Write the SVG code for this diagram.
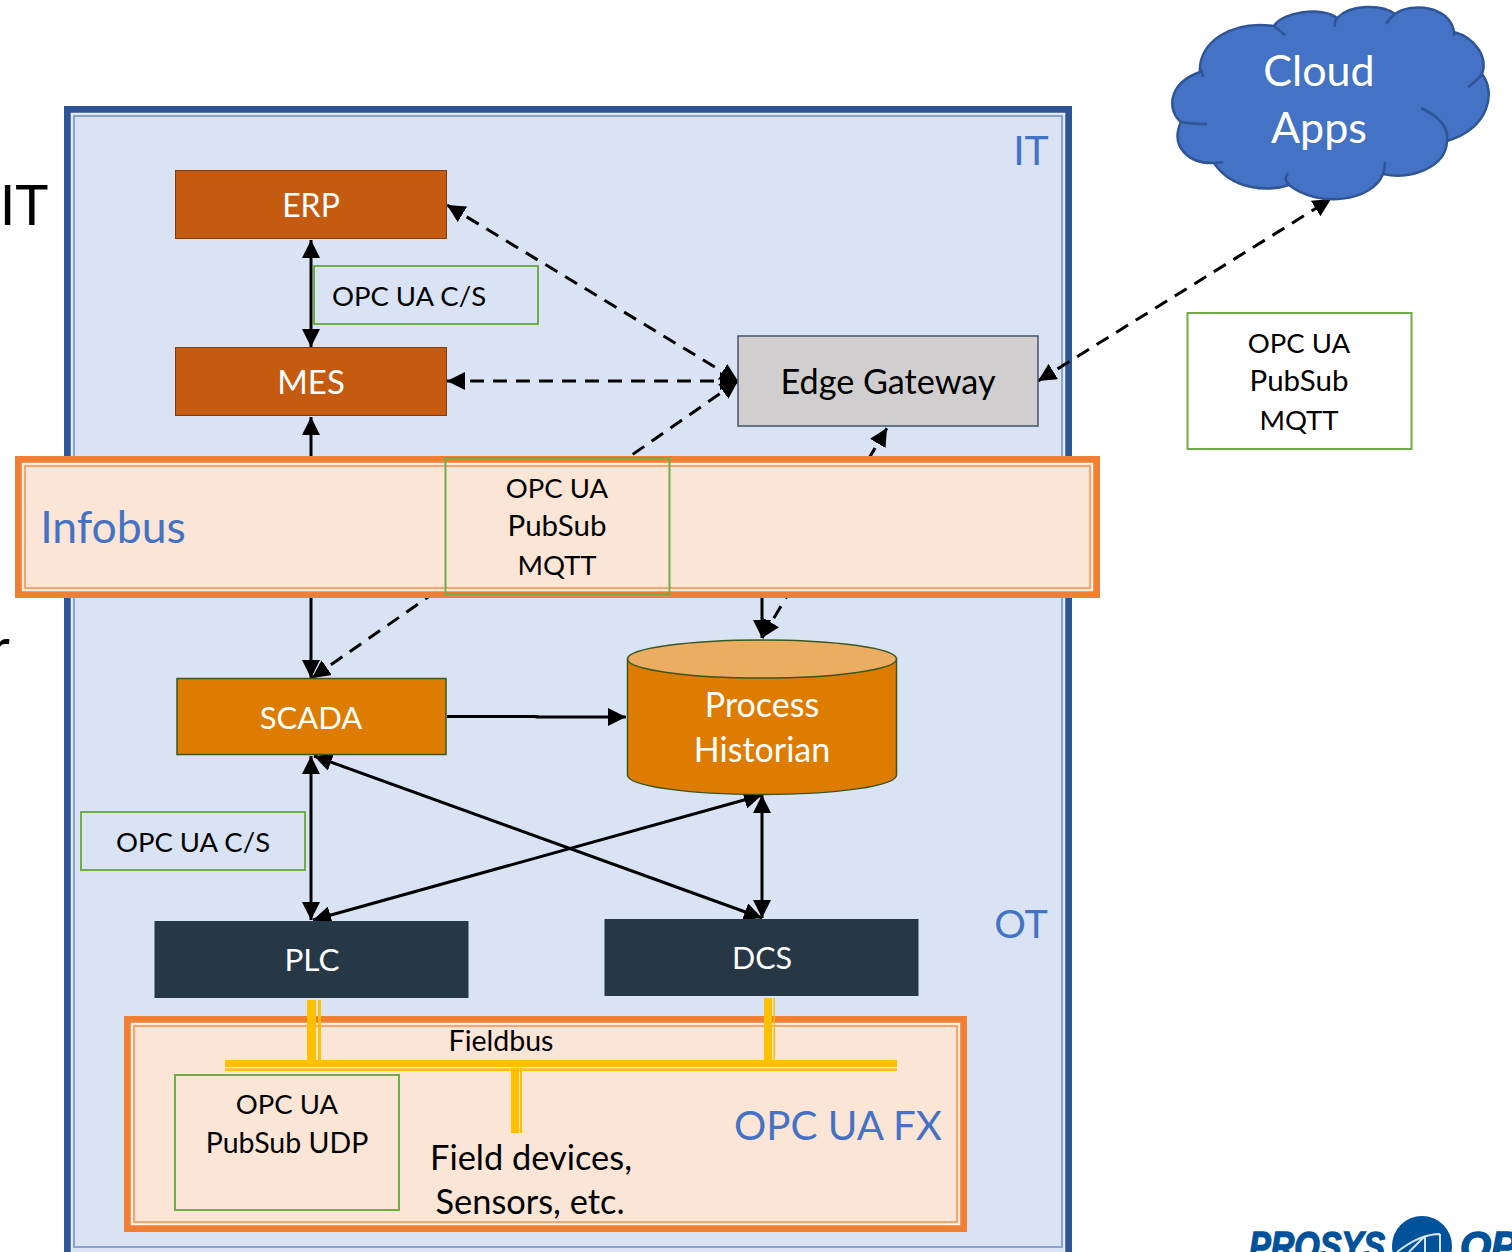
<svg xmlns="http://www.w3.org/2000/svg" width="1512" height="1252" viewBox="0 0 1512 1252">
<style>
text{font-family:Lato,"Open Sans",sans-serif;text-anchor:middle;fill:#000}
.w{fill:#fff}.b{fill:#4472c4}
.t30{font-size:27.500px}
.ps{font-size:29.500px}
.lbl{fill:none;stroke:#70ad47;stroke-width:2}
.c{fill:none;stroke:#000;stroke-width:3}
.d{stroke-dasharray:14 9}
.logo{font-family:"Liberation Sans",sans-serif;font-size:40px;font-weight:bold;font-style:italic;fill:#00529b;text-anchor:start;stroke:#00529b;stroke-width:1.500}
</style>
<defs>
<marker id="a" viewBox="0 0 10 10" refX="10" refY="5" markerWidth="6" markerHeight="6" markerUnits="strokeWidth" orient="auto-start-reverse"><path d="M0 0L10 5L0 10Z" fill="#000"/></marker>
</defs>
<rect width="1512" height="1252" fill="#fff"/>
<g id="side-labels">
<text x="24" y="225" style="font-size:56px">IT</text>
<text x="10" y="668" style="font-size:56px;text-anchor:end">r</text>
</g>
<g id="it-ot-zone">
<rect x="64" y="106" width="1008" height="1161" fill="#2f5597"/>
<rect x="71.500" y="113.500" width="993" height="1139" fill="#d9e3f4" stroke="#e8eef8" stroke-width="1.500"/>
<rect x="74" y="116" width="988" height="1131" fill="#d9e3f4" stroke="#6f8fc4" stroke-width="1.500"/>
<text x="1031" y="165" class="b" style="font-size:41px">IT</text>
<text x="1021" y="938" class="b" style="font-size:39.500px">OT</text>
</g>
<g id="connectors">
<path class="c" marker-start="url(#a)" marker-end="url(#a)" d="M311 240V347"/>
<path class="c" marker-end="url(#a)" d="M311 460V417"/>
<path class="c" marker-end="url(#a)" d="M311 598V678"/>
<path class="c" marker-end="url(#a)" d="M762 598V638"/>
<path class="c" marker-end="url(#a)" d="M447 716.500H537V717H626"/>
<path class="c" marker-start="url(#a)" marker-end="url(#a)" d="M311 756V920"/>
<path class="c" marker-start="url(#a)" marker-end="url(#a)" d="M314 756L762 918"/>
<path class="c" marker-start="url(#a)" marker-end="url(#a)" d="M313 920L762 795"/>
<path class="c" marker-start="url(#a)" marker-end="url(#a)" d="M762 795V918"/>
<path class="c d" marker-start="url(#a)" marker-end="url(#a)" d="M447 205L738 381"/>
<path class="c d" marker-start="url(#a)" marker-end="url(#a)" d="M447 381H738"/>
<path class="c d" marker-start="url(#a)" marker-end="url(#a)" d="M312 678L738 381"/>
<path class="c d" marker-start="url(#a)" marker-end="url(#a)" d="M762 638L887 428"/>
<path class="c d" marker-start="url(#a)" marker-end="url(#a)" d="M1038 381L1331 199"/>
</g>
<g id="erp"><rect x="175.500" y="170.500" width="271" height="68" fill="#c55a11" stroke="#843c0c"/><text x="311" y="217" class="w" style="font-size:32px">ERP</text></g>
<g id="mes"><rect x="175.500" y="347.500" width="271" height="68" fill="#c55a11" stroke="#843c0c"/><text x="311" y="394" class="w" style="font-size:33px">MES</text></g>
<g id="edge-gateway"><rect x="738" y="336" width="300" height="90" fill="#d0cece" stroke="#44546a" stroke-width="1.500"/><text x="888" y="394" style="font-size:34.200px">Edge Gateway</text></g>
<g id="label-cs-top"><rect x="314" y="266" width="224" height="58" class="lbl"/><text x="409" y="306" class="t30">OPC UA C/S</text></g>
<g id="label-pubsub-right"><rect x="1187.500" y="313" width="224" height="136" class="lbl"/><text x="1299" y="353" class="t30">OPC UA</text><text x="1299" y="391" class="ps">PubSub</text><text x="1299" y="430" class="t30">MQTT</text></g>
<g id="infobus">
<rect x="15" y="456" width="1085" height="142" fill="#f07f33"/>
<rect x="22.500" y="463.500" width="1070" height="127" fill="#fbe5d6" stroke="#fdf1e8" stroke-width="1.500"/>
<rect x="25" y="466" width="1065" height="122" fill="#fbe5d6" stroke="#f4914f" stroke-width="1.500"/>
<text x="113" y="543" class="b" style="font-size:44.500px">Infobus</text>
</g>
<g id="label-pubsub-infobus"><rect x="445.500" y="458" width="224" height="136" class="lbl"/><text x="557" y="498" class="t30">OPC UA</text><text x="557" y="536" class="ps">PubSub</text><text x="557" y="575" class="t30">MQTT</text></g>
<g id="scada"><rect x="177" y="678.500" width="269" height="76" fill="#dd7c00" stroke="#385723" stroke-width="1.500"/><text x="311" y="729" class="w" style="font-size:31px">SCADA</text></g>
<g id="process-historian">
<path d="M627.500 659V775C627.500 786 688 794.500 762 794.500S896.500 786 896.500 775V659Z" fill="#dd7c00" stroke="#385723" stroke-width="1.500"/>
<ellipse cx="762" cy="659" rx="134.500" ry="19" fill="#eaad62" stroke="#385723" stroke-width="1.500"/>
<text x="762" y="717" class="w" style="font-size:34px">Process</text><text x="762" y="762" class="w" style="font-size:34px">Historian</text>
</g>
<g id="label-cs-bottom"><rect x="81" y="812" width="224" height="58" class="lbl"/><text x="193" y="852" class="t30">OPC UA C/S</text></g>
<g id="plc"><rect x="154.500" y="921" width="314" height="77" fill="#263746"/><text x="312" y="971" class="w" style="font-size:31.500px">PLC</text></g>
<g id="dcs"><rect x="604.500" y="919" width="314" height="77" fill="#263746"/><text x="762" y="969" class="w" style="font-size:30.500px">DCS</text></g>
<g id="opc-ua-fx">
<rect x="124" y="1016" width="843" height="216" fill="#f07f33"/>
<rect x="131.500" y="1023.500" width="828" height="201" fill="#fbe5d6" stroke="#fdf1e8" stroke-width="1.500"/>
<rect x="134" y="1026" width="823" height="196" fill="#fbe5d6" stroke="#f4914f" stroke-width="1.500"/>
<text x="838" y="1140" class="b" style="font-size:40.300px">OPC UA FX</text>
</g>
<g id="fieldbus">
<path fill="#ffc000" d="M225 1060H897V1067H225ZM225 1068.500H897V1071H225ZM307 1000H316V1061H307ZM318 1000H321V1061H318ZM764 998H772V1061H764ZM773.500 998H775V1061H773.500ZM511 1068H519V1133H511ZM520 1068H522V1133H520Z"/>
<text x="501" y="1051" style="font-size:28.500px">Fieldbus</text>
<text x="531" y="1170" style="font-size:34.400px">Field devices,</text>
<text x="530" y="1214" style="font-size:34.400px">Sensors, etc.</text>
</g>
<g id="label-pubsub-udp"><rect x="175" y="1075" width="224" height="135" class="lbl"/><text x="287" y="1114" class="t30">OPC UA</text><text x="287" y="1153" style="font-size:28.500px">PubSub UDP</text></g>
<g id="cloud-apps">
<path d="M1200 72C1198 42 1232 20 1274 26C1282 12 1322 6 1337 18C1350 4 1382 4 1395 14C1412 2 1450 6 1454 32C1476 38 1488 58 1482 74C1496 92 1490 128 1447 141C1446 168 1410 180 1383 174C1372 202 1318 208 1289 185C1268 192 1232 190 1214 163C1188 164 1170 146 1181 122C1168 112 1166 84 1200 72Z" fill="#4472c4" stroke="#2f5597" stroke-width="2.500"/>
<path d="M1200 72Q1201 66 1203 77M1274 26Q1278 29 1285 35M1337 18Q1334 21 1335 27M1395 14Q1390 18 1386 24M1454 32Q1454 34 1454 36M1482 74Q1478 80 1468 87M1421 108Q1450 122 1447 141M1383 174Q1385 168 1385 162M1289 185Q1283 179 1288 173M1214 163Q1218 163 1223 162M1181 122Q1190 124 1207 124" fill="none" stroke="#2f5597" stroke-width="2.500"/>
<text x="1319" y="86" class="w" style="font-size:43px">Cloud</text><text x="1319" y="143" class="w" style="font-size:43px">Apps</text>
</g>
<g id="prosys-logo">
<text x="1249" y="1260" class="logo" textLength="136" lengthAdjust="spacingAndGlyphs">PROSYS</text>
<circle cx="1422" cy="1246" r="30" fill="#00529b"/>
<path d="M1397 1252Q1420 1234 1440 1234M1409 1252L1425 1236M1425 1252V1236M1440 1252V1234" fill="none" stroke="#d8e4f0" stroke-width="2"/>
<text x="1460" y="1260" class="logo">OP</text>
</g>
</svg>
